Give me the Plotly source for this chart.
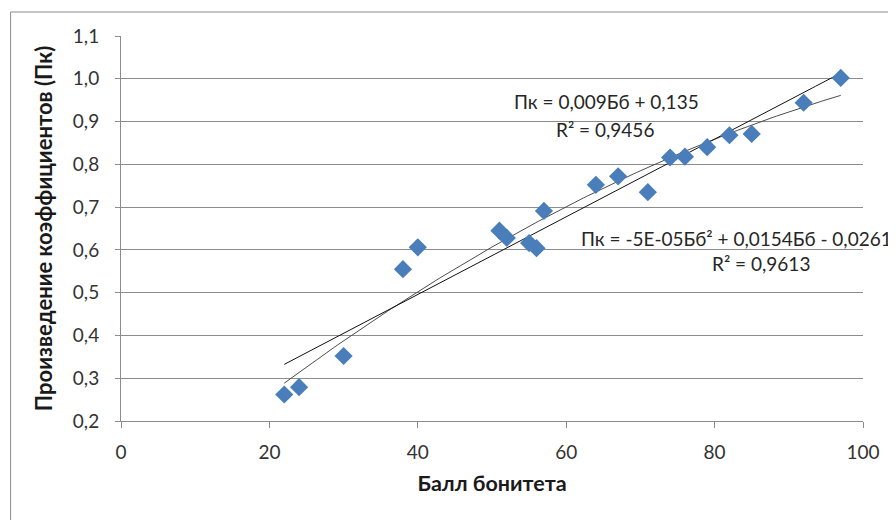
import numpy as np
import plotly.graph_objects as go

# Data
ball = [22, 24, 30, 38, 40, 51, 52, 55, 56, 57, 64, 67, 71, 74, 76, 79, 82, 85, 92, 97]
pk = [0.262, 0.279, 0.352, 0.555, 0.606, 0.645, 0.628, 0.616, 0.604, 0.691,
      0.752, 0.772, 0.735, 0.816, 0.818, 0.840, 0.868, 0.871, 0.944, 1.002]
x_ticks = [0, 20, 40, 60, 80, 100]
y_ticks = [0.2, 0.3, 0.4, 0.5, 0.6, 0.7, 0.8, 0.9, 1.0, 1.1]

x_title = "Балл бонитета"
y_title = "Произведение коэффициентов (Пк)"
eq_lin = "Пк = 0,009Бб + 0,135"
r2_lin = "R² = 0,9456"
eq_poly = "Пк = -5E-05Бб² + 0,0154Бб - 0,0261"
r2_poly = "R² = 0,9613"

xa = np.array(ball, dtype=float)
ya = np.array(pk, dtype=float)
lin = np.polyfit(xa, ya, 1)
poly = np.polyfit(xa, ya, 2)
xs = np.linspace(xa.min(), xa.max(), 200)

FONT = "Lato"
GRID = "#8c8c8c"

fig = go.Figure()
fig.add_trace(go.Scatter(x=xs, y=np.polyval(poly, xs), mode="lines",
                         line=dict(color="#4d4d4d", width=1), hoverinfo="skip"))
fig.add_trace(go.Scatter(x=xs, y=np.polyval(lin, xs), mode="lines",
                         line=dict(color="#111111", width=1), hoverinfo="skip"))
fig.add_trace(go.Scatter(x=ball, y=pk, mode="markers",
                         marker=dict(symbol="diamond", size=14, color="#4a7ebb",
                                     line=dict(width=0))))

def px2x(px):
    return (px - 120.5) / 7.428

def px2y(py):
    return 0.2 + (421 - py) / 427.8

ann = [
    (eq_lin, 607, 101.7, "center"),
    (r2_lin, 605, 129.3, "center"),
    (eq_poly, 579, 238, "left"),
    (r2_poly, 761, 263.5, "center"),
]
for txt, cx, cy, anchor in ann:
    fig.add_annotation(x=px2x(cx), y=px2y(cy), xref="x", yref="y", text=txt,
                       showarrow=False, xanchor=anchor, yanchor="middle",
                       font=dict(family=FONT, size=19, color="#262626"))

fig.add_shape(type="rect", xref="paper", yref="paper",
              x0=(10 - 120.5) / 742.8, x1=(905 - 120.5) / 742.8,
              y0=(421 - 530) / 385, y1=(421 - 12) / 385,
              line=dict(color="#8c8c8c", width=1), layer="below")

# page is offset by 8px in the browser; margins compensate
fig.update_layout(
    width=896, height=520,
    margin=dict(l=112.5, r=40.7, t=28, b=107),
    paper_bgcolor="white", plot_bgcolor="white",
    showlegend=False,
    separators=", ",
    font=dict(family=FONT, color="#333333"),
    xaxis=dict(range=[0, 100], tickvals=x_ticks, ticks="outside", ticklen=6,
               tickcolor=GRID, showline=True, linecolor=GRID, linewidth=1,
               showgrid=False, zeroline=False, ticklabelstandoff=8,
               tickfont=dict(family=FONT, size=19, color="#333333"),
               title=dict(text="<b>" + x_title + "</b>", standoff=14,
                          font=dict(family=FONT, size=21.5, color="#1a1a1a"))),
    yaxis=dict(range=[0.2, 1.1], tickvals=y_ticks, tickformat=".1f",
               ticks="outside", ticklen=5, tickcolor=GRID,
               showline=True, linecolor=GRID, linewidth=1,
               showgrid=True, gridcolor=GRID, gridwidth=1, zeroline=False,
               ticklabelstandoff=12,
               tickfont=dict(family=FONT, size=19, color="#333333"),
               title=dict(text="<b>" + y_title + "</b>", standoff=14,
                          font=dict(family=FONT, size=22, color="#1a1a1a"))),
)

fig.write_html("out.html")
